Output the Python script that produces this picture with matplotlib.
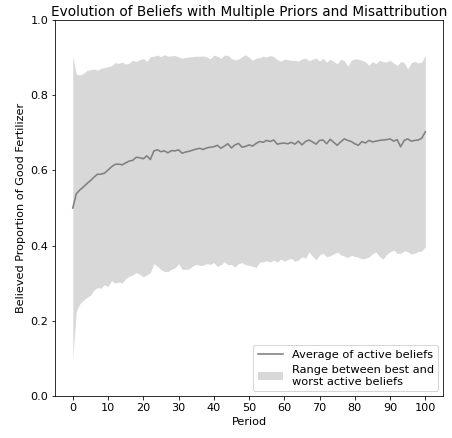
import numpy as np
import matplotlib
matplotlib.use('Agg')
import matplotlib.pyplot as plt

periods = np.arange(101)

avg_belief = [
    0.500, 0.538, 0.548, 0.556, 0.565, 0.573, 0.582, 0.590, 0.590, 0.593,
    0.601, 0.610, 0.616, 0.617, 0.615, 0.620, 0.625, 0.627, 0.635, 0.634,
    0.631, 0.639, 0.629, 0.652, 0.655, 0.650, 0.652, 0.647, 0.653, 0.652,
    0.655, 0.646, 0.649, 0.651, 0.654, 0.657, 0.659, 0.656, 0.660, 0.662,
    0.663, 0.667, 0.659, 0.665, 0.671, 0.660, 0.668, 0.672, 0.662, 0.664,
    0.668, 0.665, 0.672, 0.677, 0.675, 0.680, 0.677, 0.681, 0.670, 0.672,
    0.673, 0.671, 0.675, 0.670, 0.678, 0.668, 0.677, 0.681, 0.676, 0.670,
    0.680, 0.681, 0.671, 0.683, 0.675, 0.667, 0.676, 0.684, 0.680, 0.677,
    0.671, 0.667, 0.677, 0.673, 0.680, 0.676, 0.678, 0.680, 0.681, 0.682,
    0.684, 0.678, 0.682, 0.663, 0.680, 0.684, 0.678, 0.680, 0.681, 0.686,
    0.703,
]

best_belief = [
    0.904, 0.856, 0.854, 0.858, 0.866, 0.868, 0.870, 0.867, 0.872, 0.874,
    0.876, 0.879, 0.887, 0.885, 0.888, 0.883, 0.886, 0.893, 0.890, 0.895,
    0.898, 0.890, 0.903, 0.904, 0.907, 0.903, 0.908, 0.904, 0.905, 0.906,
    0.902, 0.899, 0.901, 0.902, 0.903, 0.904, 0.904, 0.905, 0.902, 0.897,
    0.907, 0.904, 0.899, 0.907, 0.906, 0.898, 0.894, 0.896, 0.903, 0.908,
    0.901, 0.893, 0.899, 0.900, 0.904, 0.902, 0.906, 0.903, 0.895, 0.891,
    0.896, 0.895, 0.893, 0.893, 0.891, 0.897, 0.899, 0.892, 0.896, 0.899,
    0.891, 0.899, 0.888, 0.896, 0.890, 0.884, 0.896, 0.892, 0.878, 0.893,
    0.897, 0.896, 0.893, 0.889, 0.880, 0.890, 0.884, 0.893, 0.889, 0.889,
    0.893, 0.886, 0.879, 0.890, 0.887, 0.870, 0.887, 0.890, 0.886, 0.889,
    0.907,
]

worst_belief = [
    0.101, 0.225, 0.245, 0.255, 0.262, 0.268, 0.282, 0.288, 0.287, 0.296,
    0.291, 0.307, 0.300, 0.303, 0.301, 0.312, 0.318, 0.322, 0.328, 0.324,
    0.317, 0.322, 0.328, 0.352, 0.345, 0.336, 0.331, 0.331, 0.337, 0.341,
    0.352, 0.337, 0.337, 0.338, 0.346, 0.350, 0.347, 0.348, 0.352, 0.350,
    0.355, 0.345, 0.349, 0.357, 0.349, 0.350, 0.343, 0.352, 0.355, 0.349,
    0.348, 0.345, 0.342, 0.356, 0.357, 0.360, 0.356, 0.362, 0.356, 0.364,
    0.359, 0.363, 0.366, 0.358, 0.362, 0.370, 0.367, 0.383, 0.372, 0.362,
    0.375, 0.380, 0.370, 0.373, 0.378, 0.383, 0.376, 0.372, 0.368, 0.374,
    0.371, 0.369, 0.365, 0.366, 0.370, 0.378, 0.383, 0.371, 0.364, 0.376,
    0.384, 0.388, 0.380, 0.379, 0.386, 0.384, 0.377, 0.380, 0.384, 0.386,
    0.397,
]

fig = plt.figure(figsize=(452 / 72, 438 / 72), dpi=72)
ax = fig.add_axes([0.122, 0.096, 0.858, 0.858])

band = ax.fill_between(periods, worst_belief, best_belief, color='gray', alpha=0.3,
                       linewidth=0, label='Range between best and\nworst active beliefs')
line, = ax.plot(periods, avg_belief, color='gray', linewidth=1.6,
                label='Average of active beliefs')

ax.set_ylim(0, 1)
ax.set_xticks(np.arange(0, 101, 10))
ax.set_yticks(np.arange(0, 1.01, 0.2))
ax.set_xlabel('Period', fontsize=11.2)
ax.set_ylabel('Believed Proportion of Good Fertilizer', fontsize=11.2)
ax.set_title('Evolution of Beliefs with Multiple Priors and Misattribution', fontsize=13.6, pad=4)
ax.tick_params(labelsize=11.2)
ax.legend(handles=[line, band], loc='lower right', fontsize=11.4,
          handlelength=2.2, borderaxespad=0.4)

fig.savefig('out.png', dpi=72)
